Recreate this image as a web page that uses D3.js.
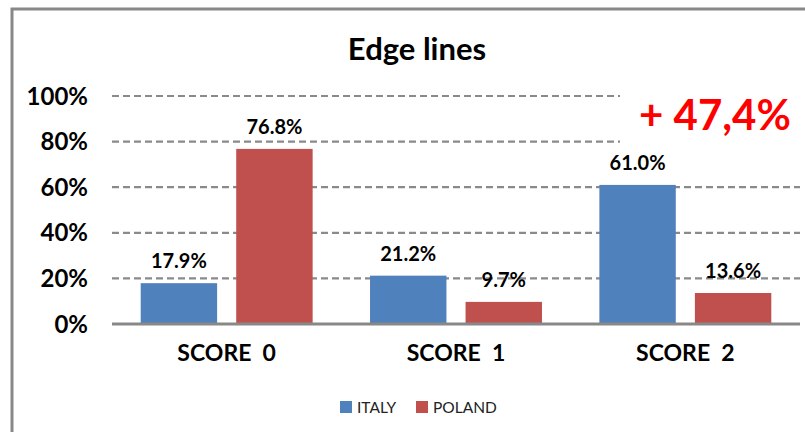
<!DOCTYPE html>
<html>
<head>
<meta charset="utf-8">
<script src="https://cdn.jsdelivr.net/npm/d3@7"></script>
<style>
  html, body { margin: 0; padding: 0; background: #fff; }
  svg { display: block; }
  text { font-family: Lato, "Open Sans", sans-serif; }
</style>
</head>
<body>
<svg id="chart" width="805" height="432"></svg>
<script>
// Edge lines: share of scores by country
const categories = ["SCORE  0", "SCORE  1", "SCORE  2"];
const series = ["ITALY", "POLAND"];
const italy = [0.179, 0.212, 0.610];
const poland = [0.768, 0.097, 0.136];
const yTicks = [0, 0.2, 0.4, 0.6, 0.8, 1.0];
const colors = { ITALY: "#4f81bd", POLAND: "#c0504d" };
const title = "Edge lines";
const note = "+ 47,4%";

const values = { ITALY: italy, POLAND: poland };
const rows = categories.map((c, i) => ({
  category: c,
  bars: series.map(s => ({ series: s, value: values[s][i] }))
}));

const svg = d3.select("#chart");
const W = 805, H = 432;
const plot = { left: 112, right: 800, top: 96, bottom: 324 };

// Outer frame (top and left edges visible)
svg.append("path")
  .attr("d", `M12,${H} V9 H${W}`)
  .attr("fill", "none")
  .attr("stroke", "#888")
  .attr("stroke-width", 3);

// Title
svg.append("text")
  .attr("x", 417).attr("y", 60)
  .attr("text-anchor", "middle")
  .attr("font-size", 31).attr("font-weight", 700)
  .attr("fill", "#000")
  .text(title);

const x0 = d3.scaleBand().domain(categories).range([plot.left, plot.right]).padding(0);
const outer = 28.7;
const x1 = d3.scaleBand().domain(series)
  .range([outer, x0.bandwidth() - outer]).paddingInner(0.2).paddingOuter(0);
const y = d3.scaleLinear().domain([0, 1]).range([plot.bottom, plot.top]);

// Dashed gridlines
svg.append("g").selectAll("line")
  .data(yTicks.filter(t => t > 0))
  .join("line")
  .attr("x1", plot.left).attr("x2", plot.right)
  .attr("y1", d => y(d)).attr("y2", d => y(d))
  .attr("stroke", "#8a8a8a")
  .attr("stroke-width", 2.2)
  .attr("stroke-dasharray", "7,4");

// Y tick labels
const fmtTick = d3.format(".0%");
svg.append("g").selectAll("text")
  .data(yTicks)
  .join("text")
  .attr("x", 88).attr("y", d => y(d))
  .attr("dy", "0.36em")
  .attr("text-anchor", "end")
  .attr("font-size", 24).attr("font-weight", 700)
  .attr("fill", "#000")
  .text(d => fmtTick(d));

// Bars
const groups = svg.append("g").selectAll("g")
  .data(rows)
  .join("g")
  .attr("transform", d => `translate(${x0(d.category)},0)`);

groups.selectAll("rect")
  .data(d => d.bars)
  .join("rect")
  .attr("x", d => x1(d.series))
  .attr("width", x1.bandwidth())
  .attr("y", d => y(d.value))
  .attr("height", d => y(0) - y(d.value))
  .attr("fill", d => colors[d.series]);

// Value labels
const fmtVal = d3.format(".1%");
groups.selectAll("text")
  .data(d => d.bars)
  .join("text")
  .attr("x", d => x1(d.series) + x1.bandwidth() / 2)
  .attr("y", d => y(d.value) - 15)
  .attr("text-anchor", "middle")
  .attr("font-size", 20).attr("font-weight", 700)
  .attr("fill", "#000")
  .text(d => fmtVal(d.value));

// Baseline
svg.append("line")
  .attr("x1", plot.left).attr("x2", plot.right)
  .attr("y1", y(0)).attr("y2", y(0))
  .attr("stroke", "#888").attr("stroke-width", 3);

// Category labels
svg.append("g").selectAll("text")
  .data(categories)
  .join("text")
  .attr("x", d => x0(d) + x0.bandwidth() / 2)
  .attr("y", 361)
  .attr("text-anchor", "middle")
  .attr("font-size", 23).attr("font-weight", 700)
  .attr("fill", "#000")
  .style("white-space", "pre")
  .text(d => d);

// Highlighted difference, on a white box over the gridlines
svg.append("rect")
  .attr("x", 620).attr("y", 86).attr("width", W - 620).attr("height", 64)
  .attr("fill", "#fff");
svg.append("text")
  .attr("x", 639).attr("y", 130)
  .attr("font-size", 42).attr("font-weight", 700)
  .attr("fill", "#ff0000")
  .text(note);

// Legend
const legend = svg.append("g").selectAll("g")
  .data(series)
  .join("g")
  .attr("transform", (d, i) => `translate(${340 + i * 76},401)`);
legend.append("rect")
  .attr("width", 12).attr("height", 12)
  .attr("fill", d => colors[d]);
legend.append("text")
  .attr("x", 17).attr("y", 12)
  .attr("font-size", 15.5)
  .attr("fill", "#222")
  .text(d => d);
</script>
</body>
</html>
